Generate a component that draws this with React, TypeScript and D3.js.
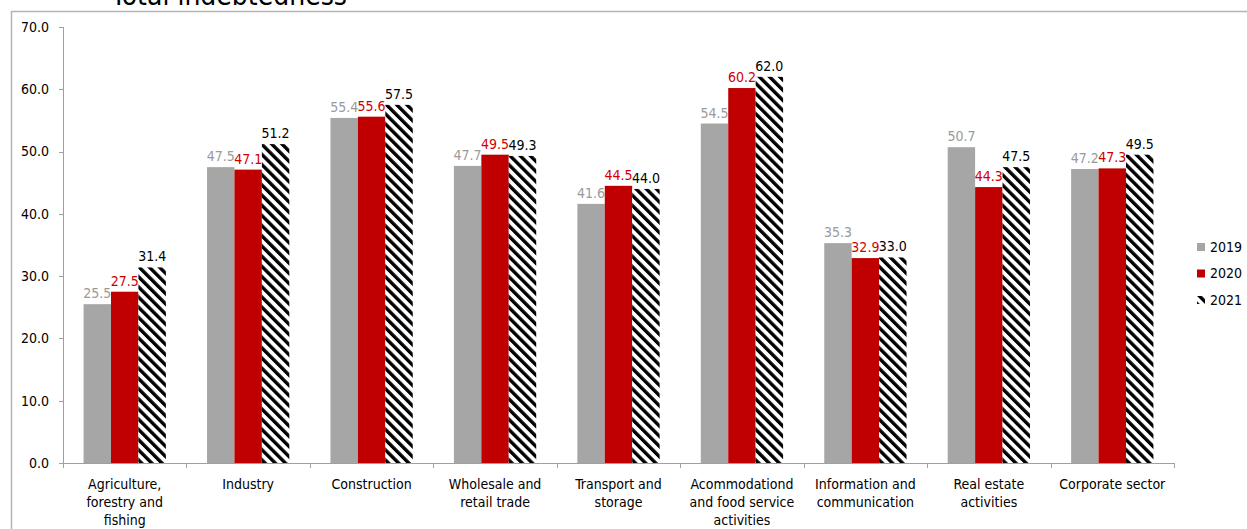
import React from "react";
import * as d3 from "d3";

const categories = [
  "Agriculture,\nforestry and\nfishing",
  "Industry",
  "Construction",
  "Wholesale and\nretail trade",
  "Transport and\nstorage",
  "Acommodationd\nand food service\nactivities",
  "Information and\ncommunication",
  "Real estate\nactivities",
  "Corporate sector",
];
const years = ["2019", "2020", "2021"];
const values2019 = [25.5, 47.5, 55.4, 47.7, 41.6, 54.5, 35.3, 50.7, 47.2];
const values2020 = [27.5, 47.1, 55.6, 49.5, 44.5, 60.2, 32.9, 44.3, 47.3];
const values2021 = [31.4, 51.2, 57.5, 49.3, 44.0, 62.0, 33.0, 47.5, 49.5];
const yTicks = [0, 10, 20, 30, 40, 50, 60, 70];
const title = "Total indebtedness";

const W = 1247;
const H = 529;
const FONT = "'DejaVu Sans Condensed', 'DejaVu Sans', sans-serif";

export default function App() {
  const x0 = d3.scaleBand<string>().domain(categories).range([63, 1174]).paddingInner(0).paddingOuter(0);
  const x1 = d3.scaleBand<string>().domain(years).range([0, x0.bandwidth()]).paddingInner(0).paddingOuter(0.75);
  const y = d3.scaleLinear().domain([0, 70]).range([463, 27]);
  const series = [values2019, values2020, values2021];
  const fills = ["#a6a6a6", "#c00000", "url(#hatch)"];
  const labelColors = ["#9a9a9a", "#d00000", "#000000"];
  const axisColor = "#a0a0a0";

  const boundaries = categories.map((c) => x0(c)!).concat([x0.range()[1]]);

  return (
    <svg width={W} height={H} style={{ position: "absolute", left: 0, top: 0 }} fontFamily={FONT}>
      <defs>
        <pattern id="hatch" patternUnits="userSpaceOnUse" width={7.2} height={7.2} patternTransform="rotate(-45)">
          <rect x={0} y={0} width={7.2} height={7.2} fill="#fff" />
          <rect x={0} y={0} width={3.4} height={7.2} fill="#000" />
        </pattern>
      </defs>
      <rect width={W} height={H} fill="#fff" />
      {/* frame */}
      <line x1={11.5} x2={11.5} y1={11} y2={H} stroke="#b4b4b4" strokeWidth={1.5} />
      <line x1={11} x2={W} y1={11.5} y2={11.5} stroke="#b4b4b4" strokeWidth={1.5} />
      {/* title */}
      <text x={229} y={5} textAnchor="middle" fontSize={28} fill="#000">{title}</text>

      {/* y axis */}
      <line x1={63.5} x2={63.5} y1={y(70)} y2={y(0)} stroke={axisColor} />
      {yTicks.map((t) => (
        <g key={t}>
          <line x1={59} x2={63.5} y1={Math.round(y(t)) + 0.5} y2={Math.round(y(t)) + 0.5} stroke={axisColor} />
          <text x={49} y={y(t)} dy="0.35em" textAnchor="end" fontSize={14} fill="#000">
            {t.toFixed(1)}
          </text>
        </g>
      ))}

      {/* bars */}
      {categories.map((c, i) => (
        <g key={c} transform={`translate(${x0(c)},0)`}>
          {years.map((yr, s) => {
            const v = series[s][i];
            const bx = x1(yr)!;
            return (
              <g key={yr}>
                <rect x={bx} y={y(v)} width={x1.bandwidth()} height={y(0) - y(v)} fill={fills[s]} />
                <text
                  x={bx + x1.bandwidth() / 2}
                  y={y(v) - 6}
                  textAnchor="middle"
                  fontSize={14}
                  fill={labelColors[s]}
                >
                  {v.toFixed(1)}
                </text>
              </g>
            );
          })}
        </g>
      ))}

      {/* x axis */}
      <line x1={63} x2={1174} y1={y(0) + 0.5} y2={y(0) + 0.5} stroke={axisColor} />
      {boundaries.map((b, i) => (
        <line key={i} x1={Math.round(b) + 0.5} x2={Math.round(b) + 0.5} y1={y(0)} y2={y(0) + 5} stroke={axisColor} />
      ))}
      {categories.map((c) => (
        <text key={c} x={x0(c)! + x0.bandwidth() / 2} y={489} textAnchor="middle" fontSize={14} fill="#000">
          {c.split("\n").map((line, k) => (
            <tspan key={k} x={x0(c)! + x0.bandwidth() / 2} dy={k === 0 ? 0 : 18}>
              {line}
            </tspan>
          ))}
        </text>
      ))}

      {/* legend */}
      {years.map((yr, s) => (
        <g key={yr} transform={`translate(1197, ${243 + s * 26.5})`}>
          <rect x={0} y={0} width={8} height={8} fill={fills[s]} />
          <text x={13} y={4} dy="0.35em" fontSize={14} fill="#000">
            {yr}
          </text>
        </g>
      ))}
    </svg>
  );
}
